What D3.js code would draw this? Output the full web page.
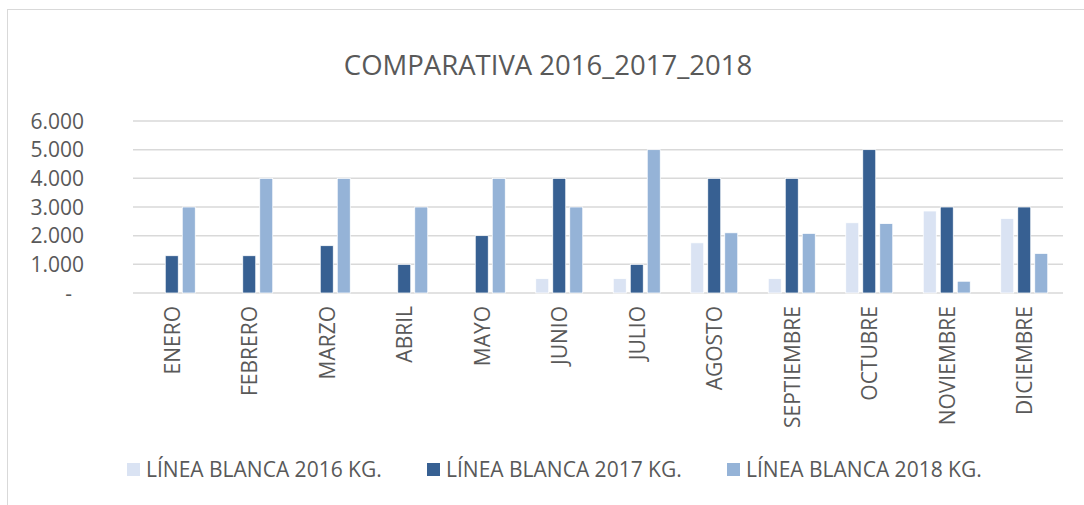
<!DOCTYPE html>
<html lang="es">
<head>
  <meta charset="UTF-8">
  <title>Comparativa 2016_2017_2018</title>
  <script src="https://d3js.org/d3.v7.min.js"></script>
  <style>
    body {
      margin: 0;
      background: #fff;
      font-family: "Open Sans", sans-serif;
    }
    .grid line {
      stroke: #d9d9d9;
      stroke-width: 1.5px;
    }
    .tick-label, .cat-label, .legend text {
      fill: #595959;
    }
  </style>
</head>
<body>
  <svg id="chart" width="1084" height="505"></svg>

  <script>
    const months = ["ENERO", "FEBRERO", "MARZO", "ABRIL", "MAYO", "JUNIO",
                    "JULIO", "AGOSTO", "SEPTIEMBRE", "OCTUBRE", "NOVIEMBRE", "DICIEMBRE"];
    const seriesNames = ["LÍNEA BLANCA 2016 KG.", "LÍNEA BLANCA 2017 KG.", "LÍNEA BLANCA 2018 KG."];
    const values2016 = [0, 0, 0, 0, 0, 500, 500, 1750, 500, 2450, 2860, 2600];
    const values2017 = [1300, 1300, 1650, 1000, 2000, 4000, 1000, 4000, 4000, 5000, 3000, 3000];
    const values2018 = [3000, 4000, 4000, 3000, 4000, 3000, 5000, 2100, 2080, 2420, 410, 1380];
    const yTicks = [0, 1000, 2000, 3000, 4000, 5000, 6000];
    const colors = ["#dae3f3", "#376092", "#95b3d7"];

    const svg = d3.select("#chart");
    const plot = {left: 133, right: 1063, top: 121, bottom: 293};

    // chart border
    svg.append("rect")
      .attr("x", 7.5).attr("y", 9.5)
      .attr("width", 1100).attr("height", 520)
      .attr("fill", "none")
      .attr("stroke", "#d9d9d9");

    svg.append("text")
      .attr("x", 548).attr("y", 75)
      .attr("text-anchor", "middle")
      .attr("font-size", 27.5)
      .attr("fill", "#595959")
      .text("COMPARATIVA 2016_2017_2018");

    const x = d3.scaleBand()
      .domain(months)
      .range([plot.left, plot.right]);

    const xSub = d3.scaleBand()
      .domain(seriesNames)
      .range([-23.5, 23.5])
      .paddingInner(4 / 17);

    const y = d3.scaleLinear()
      .domain([0, 6000])
      .range([plot.bottom, plot.top]);

    // gridlines
    svg.append("g")
      .attr("class", "grid")
      .selectAll("line")
      .data(yTicks)
      .join("line")
      .attr("x1", plot.left).attr("x2", plot.right)
      .attr("y1", d => y(d)).attr("y2", d => y(d));

    // y labels
    const fmt = d => d === 0 ? "-" : d3.format(",")(d).replace(/,/g, ".");
    svg.append("g")
      .selectAll("text")
      .data(yTicks)
      .join("text")
      .attr("class", "tick-label")
      .attr("x", d => d === 0 ? 72 : 84)
      .attr("y", d => y(d) + 7.5)
      .attr("text-anchor", "end")
      .attr("font-size", 21)
      .text(fmt);

    // bars
    const series = [values2016, values2017, values2018];
    const rows = [];
    series.forEach((vals, s) => {
      vals.forEach((v, i) => rows.push({month: months[i], name: seriesNames[s], s, v}));
    });

    svg.append("g")
      .selectAll("rect")
      .data(rows.filter(d => d.v > 0))
      .join("rect")
      .attr("x", d => x(d.month) + x.bandwidth() / 2 + xSub(d.name))
      .attr("width", xSub.bandwidth())
      .attr("y", d => y(d.v))
      .attr("height", d => y(0) - y(d.v))
      .attr("fill", d => colors[d.s])
      .attr("stroke", "#fff")
      .attr("stroke-width", 0.75);

    // category labels (rotated)
    svg.append("g")
      .selectAll("text")
      .data(months)
      .join("text")
      .attr("class", "cat-label")
      .attr("font-size", 21)
      .attr("text-anchor", "end")
      .attr("transform", d => `translate(${x(d) + x.bandwidth() / 2 + 8},306) rotate(-90)`)
      .text(d => d);

    // legend
    const legendX = [127, 427, 727];
    const legend = svg.append("g").attr("class", "legend")
      .selectAll("g")
      .data(seriesNames)
      .join("g")
      .attr("transform", (d, i) => `translate(${legendX[i]},463)`);
    legend.append("rect")
      .attr("width", 13).attr("height", 13)
      .attr("fill", (d, i) => colors[i]);
    legend.append("text")
      .attr("x", 19).attr("y", 14)
      .attr("font-size", 21)
      .text(d => d);
  </script>
</body>
</html>
